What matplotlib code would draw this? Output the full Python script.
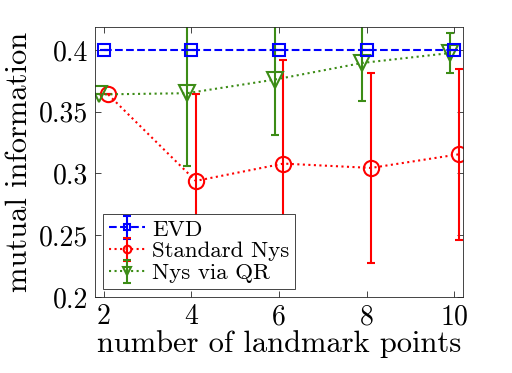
import matplotlib
matplotlib.use('Agg')
import matplotlib.pyplot as plt
import numpy as np

plt.rcParams['font.family'] = 'serif'
plt.rcParams['font.serif'] = ['cmr10', 'DejaVu Serif']
plt.rcParams['mathtext.fontset'] = 'cm'
plt.rcParams['axes.formatter.use_mathtext'] = True

landmarks = np.array([2, 4, 6, 8, 10])

evd_mean = [0.400, 0.400, 0.400, 0.400, 0.400]
evd_err = [0.0, 0.0, 0.0, 0.0, 0.0]

std_mean = [0.364, 0.294, 0.308, 0.3045, 0.3155]
std_err = [0.0, 0.070, 0.084, 0.077, 0.069]

qr_mean = [0.364, 0.365, 0.376, 0.3895, 0.3975]
qr_err = [0.0, 0.059, 0.045, 0.031, 0.016]

x_ticks = [2, 4, 6, 8, 10]
y_ticks = [0.2, 0.25, 0.3, 0.35, 0.4]
y_tick_labels = ['0.2', '0.25', '0.3', '0.35', '0.4']

green = '#3c8c16'

fig = plt.figure(figsize=(5.12, 3.73), dpi=100)
ax = fig.add_axes([95/512, 1 - 297/373, (463-95)/512, (297-27)/373])

ax.errorbar(landmarks, evd_mean, yerr=evd_err, color='blue', linestyle='--',
            marker='s', markersize=9, markerfacecolor='none', markeredgewidth=1.5,
            linewidth=1.5, capsize=3, elinewidth=1.5, label='EVD', zorder=3)
ax.errorbar(landmarks + 0.1, std_mean, yerr=std_err, color='red', linestyle=':',
            marker='o', markersize=11, markerfacecolor='none', markeredgewidth=1.5,
            linewidth=1.5, capsize=3, elinewidth=1.5, label='Standard Nys', zorder=2)
ax.errorbar(landmarks - 0.1, qr_mean, yerr=qr_err, color=green, linestyle=':',
            marker='v', markersize=12, markerfacecolor='none', markeredgewidth=1.5,
            linewidth=1.5, capsize=3, elinewidth=1.5, label='Nys via QR', zorder=2)

ax.set_xlim(1.8, 10.2)
ax.set_ylim(0.2, 0.4186)
ax.set_xticks(x_ticks)
ax.set_xticklabels([str(v) for v in x_ticks])
ax.set_yticks(y_ticks)
ax.set_yticklabels(y_tick_labels)
ax.tick_params(direction='in', top=True, right=True, length=4, width=0.6,
               color='#262626', labelsize=20, pad=5)
for s in ax.spines.values():
    s.set_color('#262626')
    s.set_linewidth(0.6)

ax.set_xlabel('number of landmark points', fontsize=22, labelpad=0)
ax.set_ylabel('mutual information', fontsize=22, labelpad=4)

leg = ax.legend(loc='lower left', fontsize=16.5, fancybox=False, framealpha=1,
                edgecolor='#262626', borderpad=0.25, labelspacing=0.08,
                handlelength=1.6, handletextpad=0.3, borderaxespad=0.35,
                markerscale=0.5)
leg.get_frame().set_linewidth(0.6)

fig.savefig('out.png', dpi=100)
